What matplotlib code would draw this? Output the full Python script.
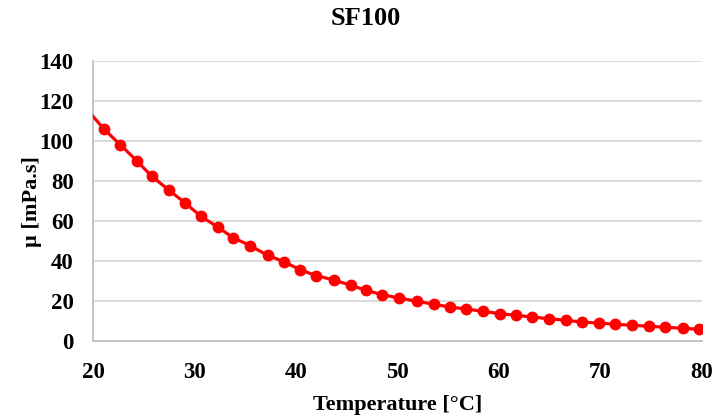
import numpy as np
import matplotlib.pyplot as plt

# viscosity of SF100 vs temperature
temp = [21.1, 22.7, 24.3, 25.8, 27.5, 29.1, 30.6, 32.3, 33.8, 35.5,
        37.2, 38.8, 40.4, 42.0, 43.7, 45.4, 46.9, 48.5, 50.2, 51.9,
        53.6, 55.2, 56.8, 58.4, 60.1, 61.7, 63.3, 64.9, 66.6, 68.2,
        69.9, 71.4, 73.1, 74.8, 76.4, 78.1, 79.7]
mu = [105.9, 98.2, 90.2, 82.4, 75.4, 69.0, 62.5, 57.0, 51.7, 47.7,
      42.9, 39.7, 35.7, 32.7, 30.6, 27.9, 25.4, 23.2, 21.5, 19.9,
      18.4, 17.0, 16.0, 14.9, 13.7, 12.9, 12.0, 11.2, 10.4, 9.5,
      9.0, 8.4, 7.9, 7.4, 6.9, 6.4, 5.9]
# fitted curve starts at the left edge
t_start = 20
mu_start = 112.4

plt.rcParams['font.family'] = ['Liberation Serif', 'DejaVu Serif']
plt.rcParams['font.weight'] = 'bold'

fig = plt.figure(figsize=(7.17, 4.19), dpi=100)
ax = fig.add_axes([0.1297, 0.186, 0.8493, 0.668])

ax.plot([t_start] + temp, [mu_start] + mu, color='#ff0000', lw=2.3, zorder=3)
ax.plot(temp, mu, 'o', color='#ff0000', ms=7.5, zorder=4)

ax.set_xlim(20, 80)
ax.set_ylim(0, 140)
ax.set_xticks(np.arange(20, 81, 10))
ax.set_yticks(np.arange(0, 141, 20))
ax.grid(axis='y', color='#d9d9d9', lw=1.3)
ax.set_axisbelow(True)
for s in ['top', 'right']:
    ax.spines[s].set_visible(False)
for s in ['left', 'bottom']:
    ax.spines[s].set_color('#bfbfbf')
    ax.spines[s].set_linewidth(1.3)
ax.tick_params(length=0, labelsize=16.5)
ax.tick_params(axis='x', pad=15)
ax.tick_params(axis='y', pad=14)
for lab in ax.get_xticklabels() + ax.get_yticklabels():
    lab.set_fontweight('bold')

fig.text(0.51, 0.955, 'SF100', fontsize=19, fontweight='bold',
         ha='center', va='center')
ax.set_xlabel('Temperature [°C]', fontsize=16, fontweight='bold', labelpad=9)
ax.set_ylabel('µ [mPa.s]', fontsize=16, fontweight='bold', labelpad=-2)

fig.savefig('out.png', dpi=100)
